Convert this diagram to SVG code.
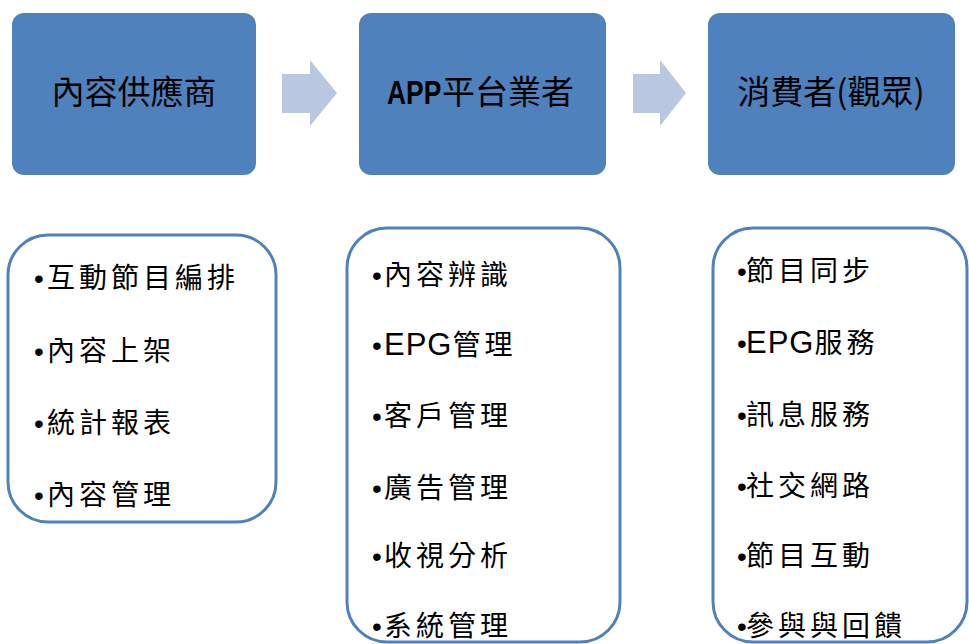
<svg xmlns="http://www.w3.org/2000/svg" width="969" height="644" viewBox="0 0 969 644">
<style>
.hd{fill:#4f81bd;}
.ttl{font-family:"Noto Sans CJK TC","Liberation Sans",sans-serif;font-size:33px;fill:#000;text-anchor:middle;}
.lst{fill:#fff;stroke:#4f81bd;stroke-width:3;}
.it{font-family:"Liberation Sans","Noto Sans CJK TC",sans-serif;font-size:28px;fill:#000;letter-spacing:4px;}
.b{letter-spacing:0;}
.e{font-size:31px;letter-spacing:1px;}
.arr{fill:#b9c7e0;}
</style>
<rect width="969" height="644" fill="#fff"/>
<g id="connectors">
<polygon class="arr" points="282,74 310,74 310,60 337,93 310,126 310,113 282,113"/>
<polygon class="arr" points="633,74 660,74 660,60 686,93 660,126 660,113 633,113"/>
</g>
<g id="provider">
<rect class="hd" x="12" y="13" width="244" height="162" rx="12"/>
<text class="ttl" x="134" y="104">內容供應商</text>
</g>
<g id="platform">
<rect class="hd" x="359" y="13" width="247" height="162" rx="12"/>
<text transform="translate(387,104) scale(0.8,1)" style="font-family:'Liberation Sans',sans-serif;font-weight:bold;font-size:33px;fill:#000">APP</text>
<text x="442" y="104" style="font-family:'Noto Sans CJK TC',sans-serif;font-size:33px;fill:#000">平台業者</text>
</g>
<g id="consumer">
<rect class="hd" x="708" y="13" width="247" height="162" rx="12"/>
<text class="ttl" x="831" y="104">消費者(觀眾)</text>
</g>
<g id="provider-list">
<rect class="lst" x="8" y="235" width="268" height="287" rx="40"/>
<text class="it" y="288"><tspan class="b" x="34">•</tspan><tspan x="47">互動節目編排</tspan></text>
<text class="it" y="361"><tspan class="b" x="34">•</tspan><tspan x="47">內容上架</tspan></text>
<text class="it" y="433"><tspan class="b" x="34">•</tspan><tspan x="47">統計報表</tspan></text>
<text class="it" y="505"><tspan class="b" x="34">•</tspan><tspan x="47">內容管理</tspan></text>
</g>
<g id="platform-list">
<rect class="lst" x="347" y="228" width="273" height="414" rx="40"/>
<text class="it" y="285"><tspan class="b" x="372">•</tspan><tspan x="384">內容辨識</tspan></text>
<text class="it" y="355"><tspan class="b" x="372">•</tspan><tspan class="e" x="384">EPG</tspan><tspan>管理</tspan></text>
<text class="it" y="426"><tspan class="b" x="372">•</tspan><tspan x="384">客戶管理</tspan></text>
<text class="it" y="498"><tspan class="b" x="372">•</tspan><tspan x="384">廣告管理</tspan></text>
<text class="it" y="566"><tspan class="b" x="372">•</tspan><tspan x="384">收視分析</tspan></text>
<text class="it" y="636"><tspan class="b" x="372">•</tspan><tspan x="384">系統管理</tspan></text>
</g>
<g id="consumer-list">
<rect class="lst" x="713" y="228" width="254" height="414" rx="40"/>
<text class="it" y="281"><tspan class="b" x="737">•</tspan><tspan x="746">節目同步</tspan></text>
<text class="it" y="353"><tspan class="b" x="737">•</tspan><tspan class="e" x="746">EPG</tspan><tspan>服務</tspan></text>
<text class="it" y="425"><tspan class="b" x="737">•</tspan><tspan x="746">訊息服務</tspan></text>
<text class="it" y="496"><tspan class="b" x="737">•</tspan><tspan x="746">社交網路</tspan></text>
<text class="it" y="566"><tspan class="b" x="737">•</tspan><tspan x="746">節目互動</tspan></text>
<text class="it" y="636"><tspan class="b" x="737">•</tspan><tspan x="746">參與與回饋</tspan></text>
</g>
</svg>
